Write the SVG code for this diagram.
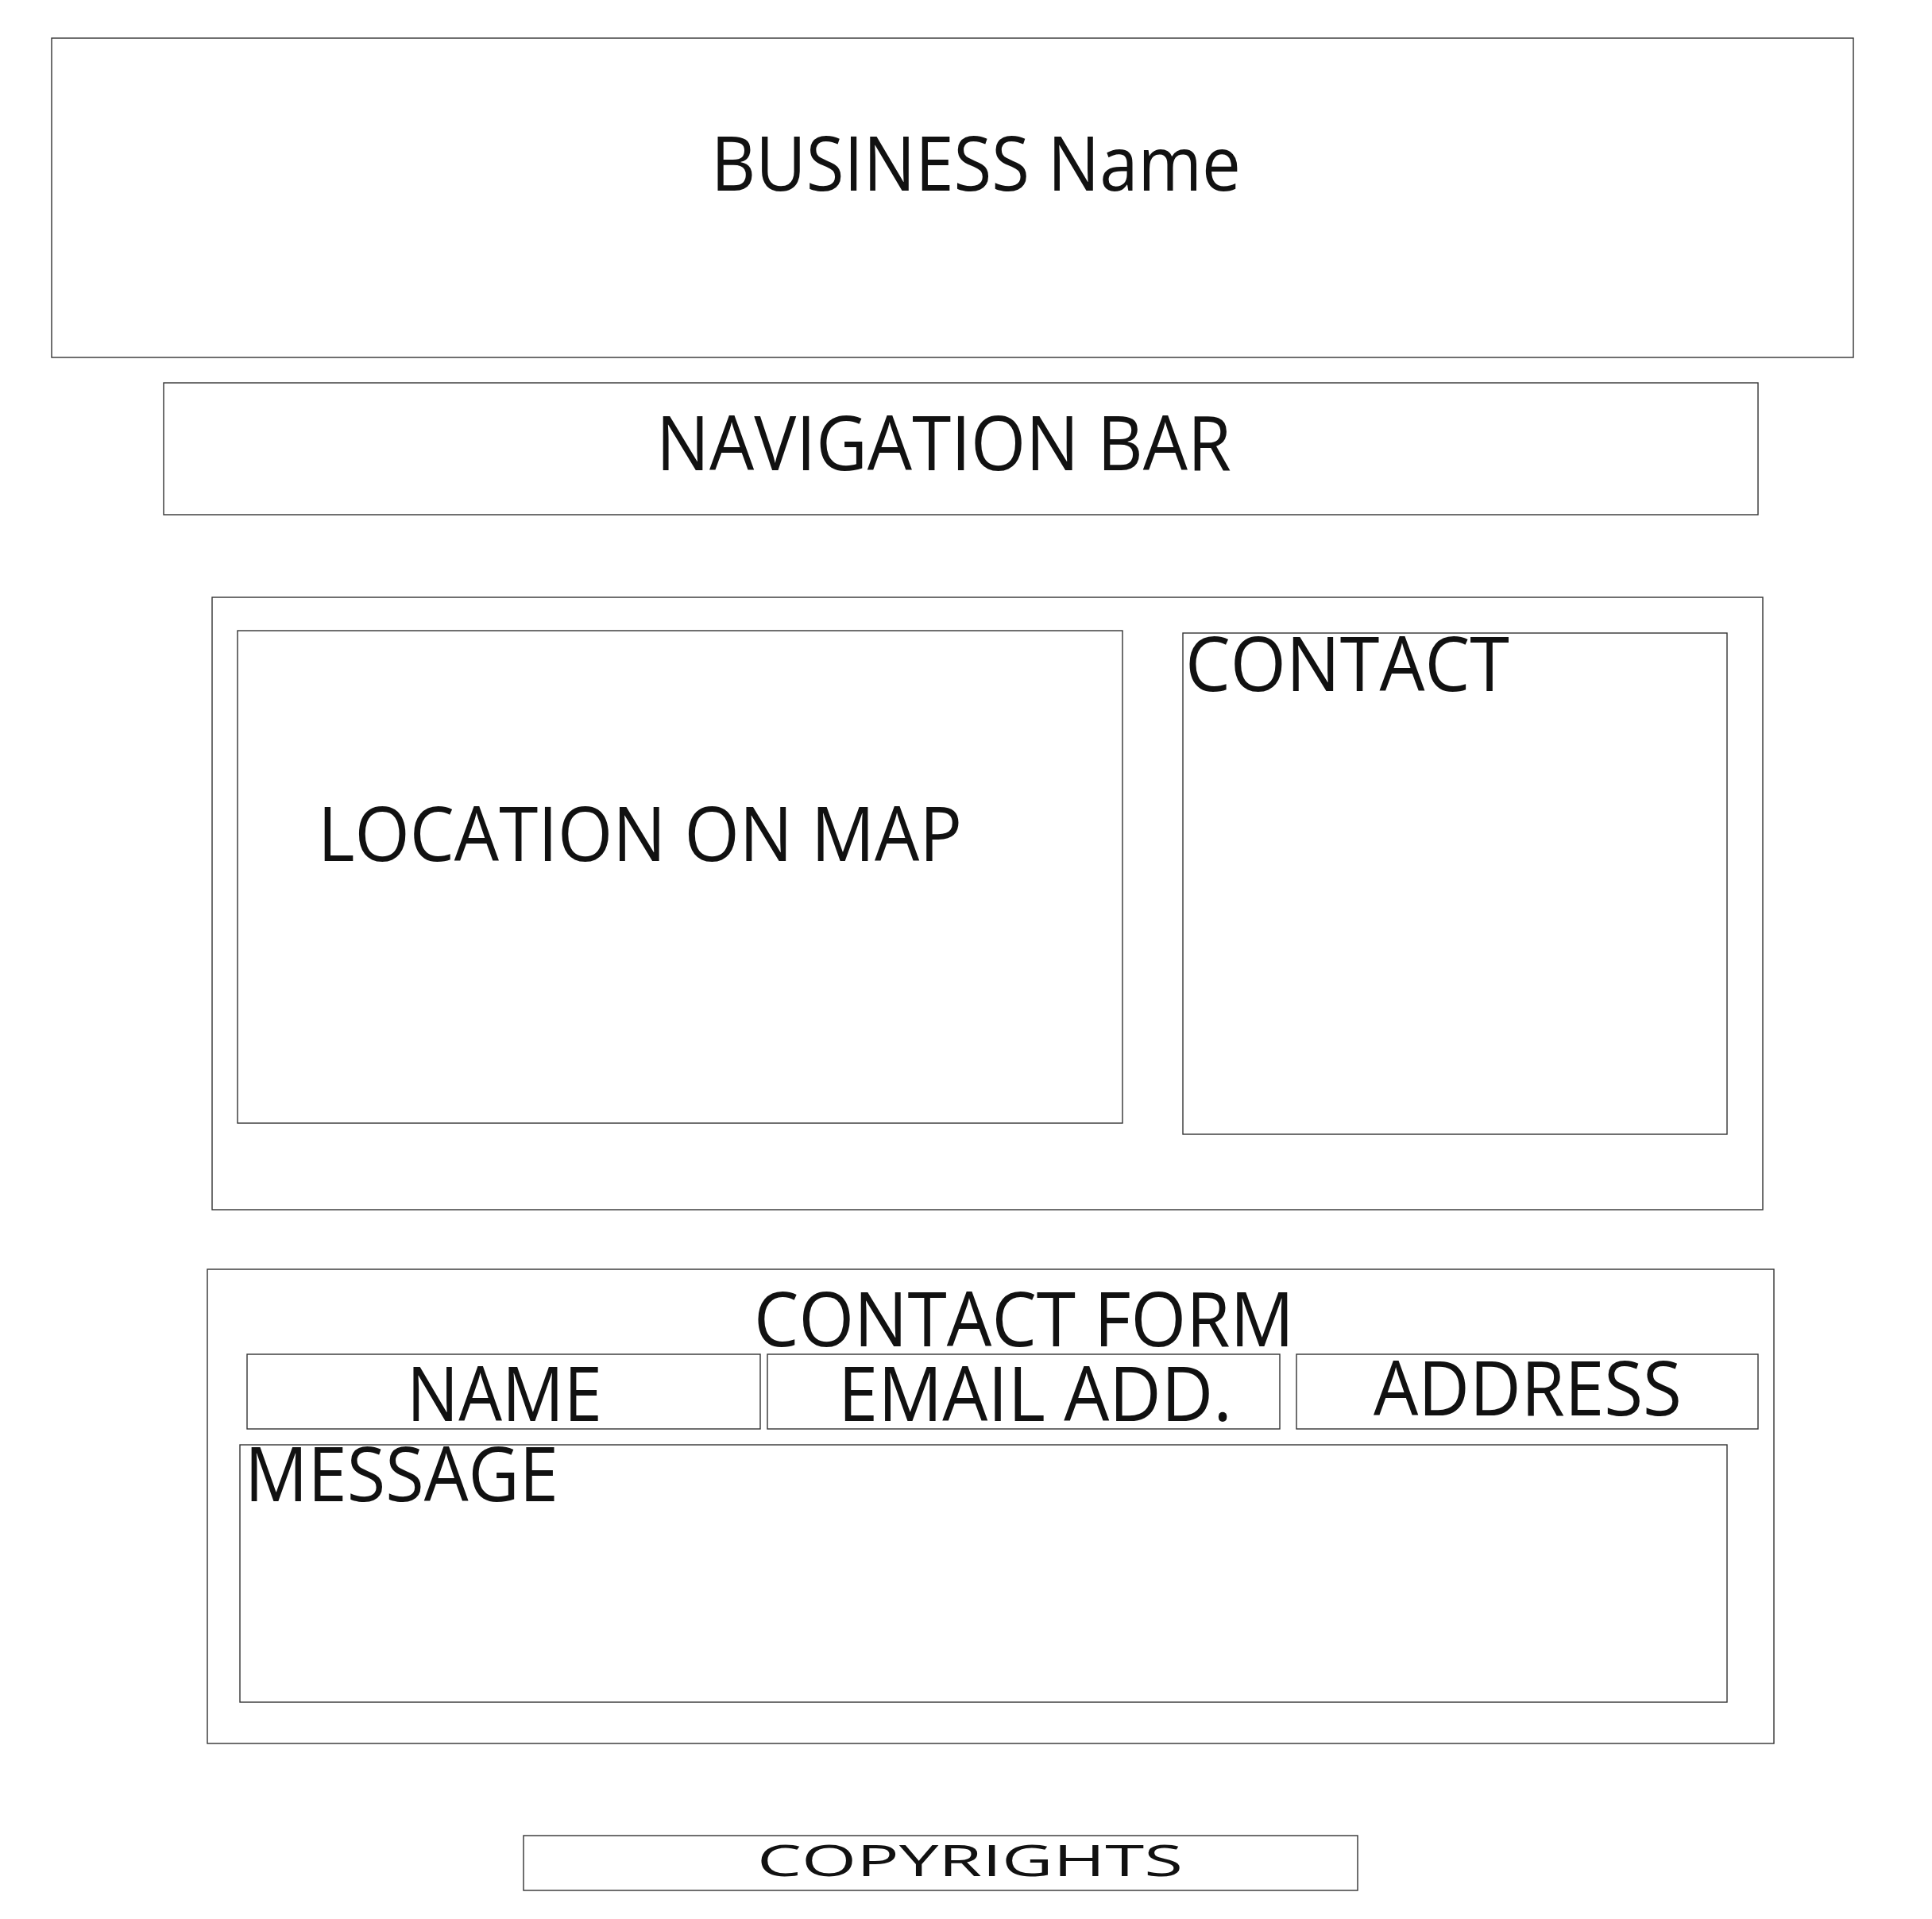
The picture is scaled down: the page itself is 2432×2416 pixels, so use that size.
<svg xmlns="http://www.w3.org/2000/svg" width="2432" height="2416" viewBox="0 0 2432 2416">
<style>
.box{fill:#fff;stroke:#333;stroke-width:1.4}
.t{font-family:"Open Sans","Noto Sans","Liberation Sans",sans-serif;font-size:95px;fill:#111}
.s{font-family:"Open Sans","Noto Sans","Liberation Sans",sans-serif;font-size:55px;fill:#111}
</style>
<rect width="2432" height="2416" fill="#fff"/>
<g id="business">
<rect class="box" x="65" y="48" width="2268" height="402"/>
<text class="t" x="895" y="240" textLength="667" lengthAdjust="spacingAndGlyphs">BUSINESS Name</text>
</g>
<g id="navigation">
<rect class="box" x="206" y="482" width="2007" height="166"/>
<text class="t" x="826" y="592" textLength="724" lengthAdjust="spacingAndGlyphs">NAVIGATION BAR</text>
</g>
<g id="main-section">
<rect class="box" x="267" y="752" width="1952" height="771"/>
</g>
<g id="location">
<rect class="box" x="299" y="794" width="1114" height="620"/>
<text class="t" x="400" y="1084" textLength="811" lengthAdjust="spacingAndGlyphs">LOCATION ON MAP</text>
</g>
<g id="contact">
<rect class="box" x="1489" y="797" width="685" height="631"/>
<text class="t" x="1492" y="870" textLength="408" lengthAdjust="spacingAndGlyphs">CONTACT</text>
</g>
<g id="contact-form">
<rect class="box" x="261" y="1598" width="1972" height="597"/>
<text class="t" x="949" y="1695" textLength="680" lengthAdjust="spacingAndGlyphs">CONTACT FORM</text>
</g>
<g id="name">
<rect class="box" x="311" y="1705" width="646" height="94"/>
<text class="t" x="512" y="1789" textLength="246" lengthAdjust="spacingAndGlyphs">NAME</text>
</g>
<g id="email">
<rect class="box" x="966" y="1705" width="645" height="94"/>
<text class="t" x="1055" y="1789" textLength="496" lengthAdjust="spacingAndGlyphs">EMAIL ADD.</text>
</g>
<g id="address">
<rect class="box" x="1632" y="1705" width="581" height="94"/>
<text class="t" x="1729" y="1782" textLength="388" lengthAdjust="spacingAndGlyphs">ADDRESS</text>
</g>
<g id="message">
<rect class="box" x="302" y="1819" width="1872" height="324"/>
<text class="t" x="308" y="1890" textLength="395" lengthAdjust="spacingAndGlyphs">MESSAGE</text>
</g>
<g id="copyrights">
<rect class="box" x="659" y="2311" width="1050" height="69"/>
<text class="s" x="953" y="2362" textLength="536" lengthAdjust="spacingAndGlyphs">COPYRIGHTS</text>
</g>
<g id="connectors"/>
</svg>
